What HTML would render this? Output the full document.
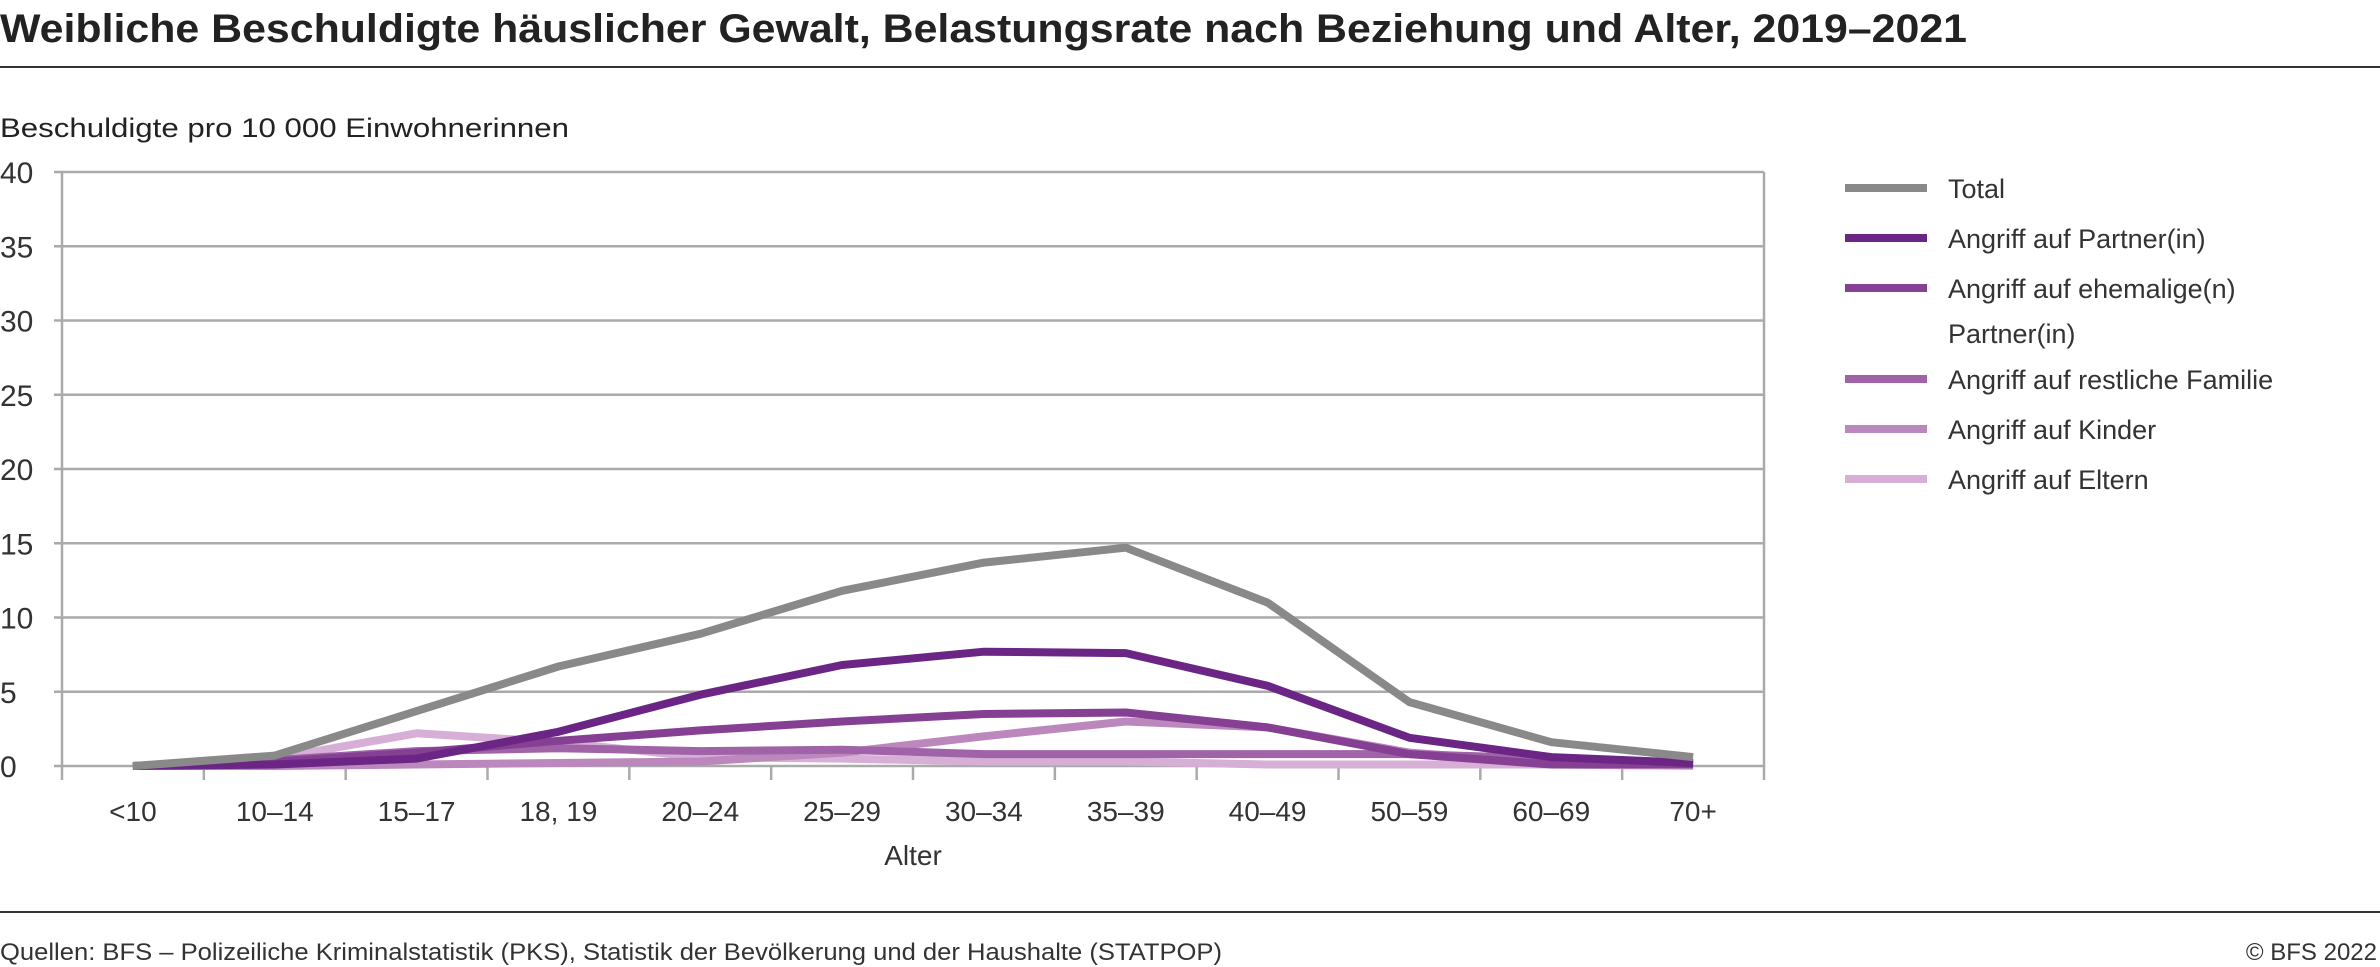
<!DOCTYPE html>
<html><head><meta charset="utf-8"><style>
html,body{margin:0;padding:0;background:#fff;}
svg{display:block;font-family:"Liberation Sans",sans-serif;}
</style></head><body>
<svg id="chart" width="2380" height="967" viewBox="0 0 2380 967" xmlns="http://www.w3.org/2000/svg">
<text x="0" y="42" font-size="40" font-weight="bold" fill="#222" textLength="1967" lengthAdjust="spacingAndGlyphs">Weibliche Beschuldigte häuslicher Gewalt, Belastungsrate nach Beziehung und Alter, 2019–2021</text>
<rect x="0" y="66" width="2380" height="2" fill="#333"/>
<text x="0" y="137" font-size="27" fill="#222" textLength="569" lengthAdjust="spacingAndGlyphs">Beschuldigte pro 10 000 Einwohnerinnen</text>
<g id="grid"></g>
<g id="series"></g>
<g id="legend"></g>
<text x="913" y="865" font-size="28" fill="#333" text-anchor="middle">Alter</text>
<rect x="0" y="911" width="2380" height="2" fill="#333"/>
<text x="0" y="960" font-size="24" fill="#333" textLength="1222" lengthAdjust="spacingAndGlyphs">Quellen: BFS – Polizeiliche Kriminalstatistik (PKS), Statistik der Bevölkerung und der Haushalte (STATPOP)</text>
<text x="2377" y="960" font-size="24" fill="#333" text-anchor="end">© BFS 2022</text>
</svg>
<script>
const categories = ["<10","10–14","15–17","18, 19","20–24","25–29","30–34","35–39","40–49","50–59","60–69","70+"];
const yTicks = [0,5,10,15,20,25,30,35,40];
const seriesNames = ["Total","Angriff auf Partner(in)","Angriff auf ehemalige(n) Partner(in)","Angriff auf restliche Familie","Angriff auf Kinder","Angriff auf Eltern"];
const totalValues = [0,0.7,3.7,6.7,8.9,11.8,13.7,14.7,11.0,4.3,1.6,0.6];
const partnerValues = [0,0.1,0.5,2.3,4.8,6.8,7.7,7.6,5.4,1.9,0.6,0.2];
const exPartnerValues = [0,0.3,0.9,1.7,2.4,3.0,3.5,3.6,2.6,0.8,0.1,0.1];
const familyValues = [0,0.4,1.0,1.2,1.0,1.1,0.8,0.8,0.8,0.8,0.5,0.2];
const childrenValues = [0,0,0.1,0.2,0.3,0.9,2.0,3.0,2.6,0.9,0.2,0.1];
const parentsValues = [0,0.5,2.2,1.6,0.6,0.5,0.3,0.3,0.1,0.1,0.1,0];

const NS="http://www.w3.org/2000/svg";
const L=62,R=1764,T=172,B=766,yMax=40;
const band=(R-L)/categories.length;
const xPos=i=>L+band*(i+0.5);
const yPos=v=>B-(v/yMax)*(B-T);
function mk(tag,attrs,parent){const e=document.createElementNS(NS,tag);for(const k in attrs)e.setAttribute(k,attrs[k]);parent.appendChild(e);return e;}
const grid=document.getElementById('grid');
yTicks.forEach(t=>{
  const ln=mk('line',{x1:L-8,x2:R,y1:yPos(t),y2:yPos(t),stroke:'#aaa','stroke-width':2.5},grid);
  
  
  const tx=mk('text',{x:0,y:yPos(t)+11,'font-size':30,fill:'#333'},grid);
  tx.textContent=t;
  
  
});
const ax=mk('line',{x1:L,x2:L,y1:T,y2:B+14,stroke:'#aaa','stroke-width':2.5},grid);


const rx=mk('line',{x1:R,x2:R,y1:T,y2:B+14,stroke:'#aaa','stroke-width':2.5},grid);


for(let i=1;i<categories.length;i++){
  const tk=mk('line',{x1:L+band*i,x2:L+band*i,y1:B,y2:B+14,stroke:'#aaa','stroke-width':2.5},grid);
  
  
}
categories.forEach((c,i)=>{
  const tx=mk('text',{x:xPos(i),y:821,'font-size':28,fill:'#333','text-anchor':'middle'},grid);
  tx.textContent=c;
  
  
});
const colors=['#898989','#6b2585','#853f93','#a063a8','#bb87bd','#d6aed6'];
const allValues=[totalValues,partnerValues,exPartnerValues,familyValues,childrenValues,parentsValues];
const sg=document.getElementById('series');
for(let s=allValues.length-1;s>=0;s--){
  const pts=allValues[s].map((v,i)=>xPos(i).toFixed(1)+','+yPos(v).toFixed(1)).join(' ');
  const pl=mk('polyline',{points:pts,fill:'none',stroke:colors[s],'stroke-width':8,'stroke-linejoin':'round'},sg);
  
  
}
const lg=document.getElementById('legend');
const rowsY=[188,238,288,379,429,479];
seriesNames.forEach((n,i)=>{
  const r=mk('rect',{x:1845,y:rowsY[i]-4,width:82,height:8,fill:colors[i]},lg);
  
  
  const t=mk('text',{x:1948,y:rowsY[i]+10,'font-size':27,fill:'#333'},lg);
  
  
  if(i===2){
    t.textContent='Angriff auf ehemalige(n)';
    const t2=mk('text',{x:1948,y:rowsY[i]+55,'font-size':27,fill:'#333'},lg);
    t2.textContent='Partner(in)';
    
    
  } else t.textContent=n;
});
</script>
</body></html>
